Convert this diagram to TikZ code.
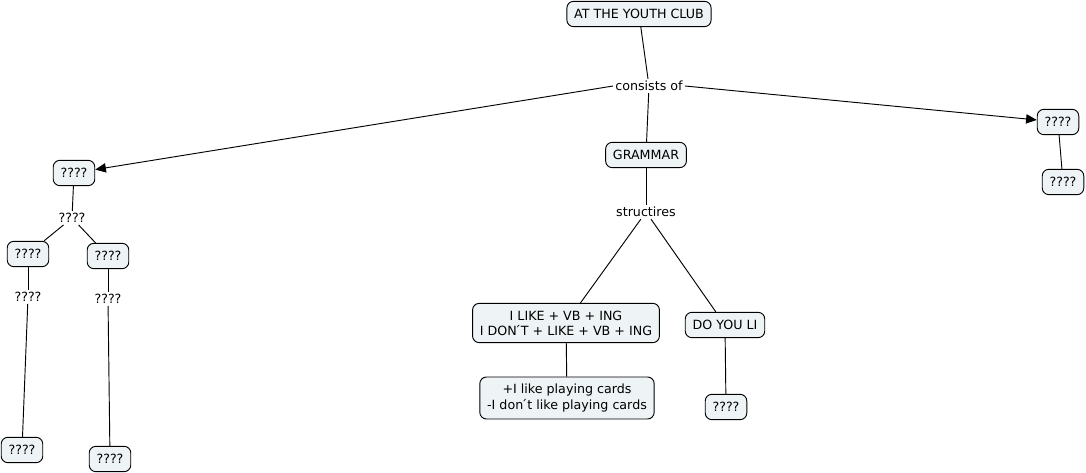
\documentclass[tikz,border=0pt]{standalone}
\usepackage{fontspec}
\setmainfont{DejaVu Sans}
\usetikzlibrary{arrows.meta}

\tikzset{
  concept/.style={draw, rounded corners=5pt, fill=boxfill, line width=0.7pt,
    inner xsep=5.5pt, inner ysep=3pt, minimum height=19pt, align=center,
    font=\fontsize{9.5}{11.3}\selectfont},
  twoline/.style={inner ysep=5.5pt},
  linkword/.style={inner sep=1.5pt, font=\fontsize{9.5}{11.3}\selectfont},
  link/.style={draw, line width=0.7pt},
  linkto/.style={link, -{Triangle[length=8pt,width=7pt]}}
}
\definecolor{boxfill}{HTML}{EEF3F5}

\begin{document}
\begin{tikzpicture}[x=0.75pt, y=-0.75pt]
  \useasboundingbox (0, 0) rectangle (1086, 473);
  % top and first link
  \node[concept] (club) at (639, 14) {AT THE YOUTH CLUB};
  \node[linkword] (consists) at (649, 86) {consists of};
  \node[concept] (grammar) at (646, 155) {GRAMMAR};
  \node[concept] (lefttop) at (74, 173) {????};
  \node[concept] (righttop) at (1058, 122) {????};
  \node[concept] (rightlow) at (1063, 182) {????};
  % left branch
  \node[linkword] (leftlink) at (72, 218) {????};
  \node[concept] (leftA) at (28, 254) {????};
  \node[concept] (leftB) at (108, 256) {????};
  \node[linkword] (linkA) at (28, 297) {????};
  \node[linkword] (linkB) at (108, 299) {????};
  \node[concept] (bottomA) at (22, 450) {????};
  \node[concept] (bottomB) at (110, 459) {????};
  % grammar branch
  \node[linkword] (struct) at (646, 212) {structires};
  \node[concept, twoline] (ilike) at (566, 323) {I LIKE + VB + ING\\I DON\'{}T + LIKE + VB + ING};
  \node[concept] (doyou) at (725, 325) {DO YOU LI};
  \node[concept, twoline] (example) at (567, 398) {+I like playing cards\\-I don\'{}t like playing cards};
  \node[concept] (doyouq) at (726, 407) {????};

  \draw[link] (club) -- (consists);
  \draw[link] (consists) -- (grammar);
  \draw[linkto] (consists.west) -- (lefttop);
  \draw[linkto] (consists.east) -- (righttop);
  \draw[link] (righttop) -- (rightlow);
  \draw[link] (lefttop) -- (leftlink);
  \draw[link] (leftlink) -- (leftA);
  \draw[link] (leftlink) -- (leftB);
  \draw[link] (leftA) -- (linkA);
  \draw[link] (leftB) -- (linkB);
  \draw[link] (linkA) -- (bottomA);
  \draw[link] (linkB) -- (bottomB);
  \draw[link] (grammar) -- (struct);
  \draw[link] (struct) -- (ilike);
  \draw[link] (struct) -- (doyou);
  \draw[link] (ilike) -- (example);
  \draw[link] (doyou) -- (doyouq);
\end{tikzpicture}
\end{document}
